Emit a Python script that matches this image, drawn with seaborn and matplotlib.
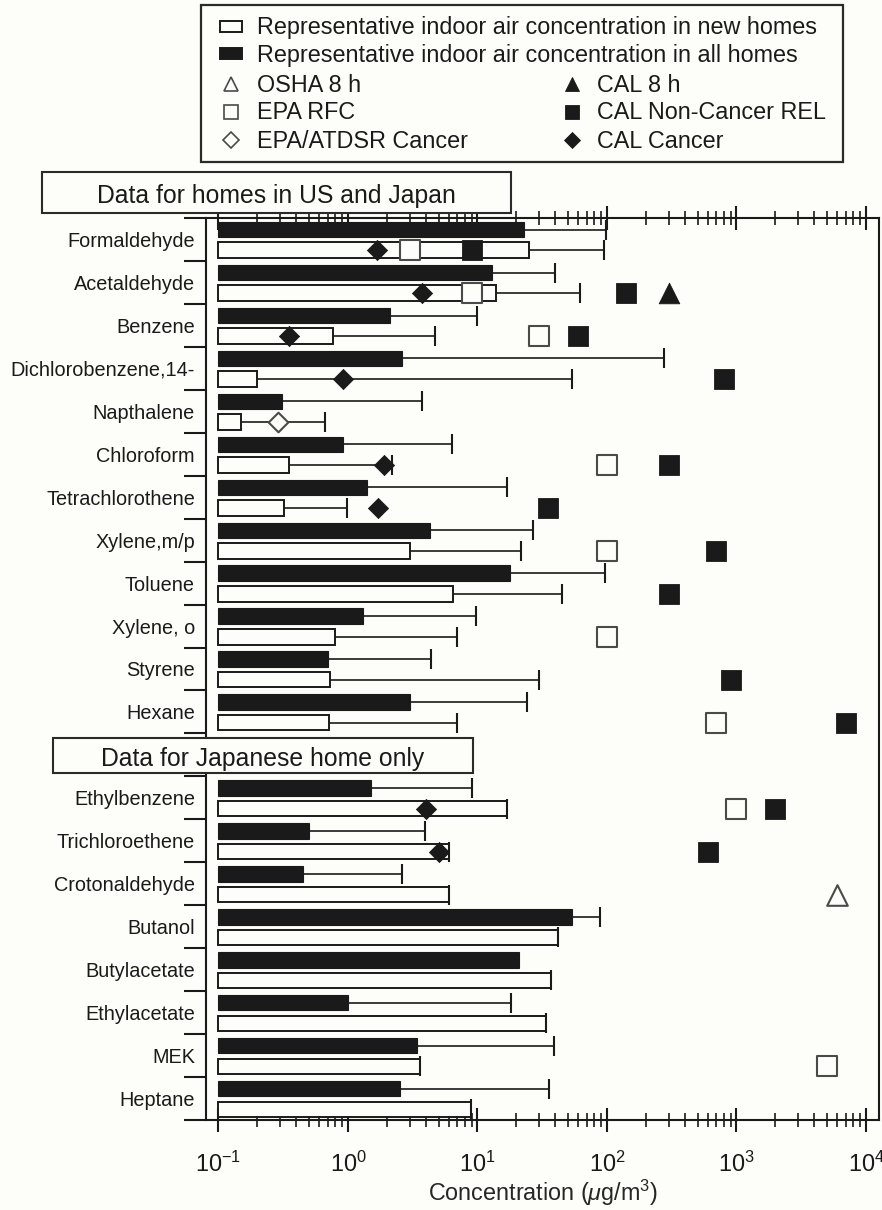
import numpy as np
import pandas as pd
import matplotlib
matplotlib.use("Agg")
import matplotlib.pyplot as plt
import seaborn as sns
from matplotlib.patches import Rectangle
from matplotlib.lines import Line2D
from matplotlib.ticker import FixedLocator, FixedFormatter, NullFormatter, LogLocator

# ---------------------------------------------------------------- data
compounds_us_jp = ["Formaldehyde", "Acetaldehyde", "Benzene", "Dichlorobenzene,14-",
                   "Napthalene", "Chloroform", "Tetrachlorothene", "Xylene,m/p",
                   "Toluene", "Xylene, o", "Styrene", "Hexane"]
compounds_jp = ["Ethylbenzene", "Trichloroethene", "Crotonaldehyde", "Butanol",
                "Butylacetate", "Ethylacetate", "MEK", "Heptane"]

# representative concentration, all homes (black bars) and upper bound
all_homes = [22.7, 12.9, 2.1, 2.6, 0.31, 0.91, 1.39, 4.3, 17.7, 1.3, 0.70, 3.0,
             1.5, 0.5, 0.45, 54, 20.8, 1.0, 3.4, 2.5]
all_homes_upper = [99, 40, 10, 275, 3.7, 6.3, 17, 27, 96, 9.7, 4.4, 24,
                   9.0, 3.9, 2.6, 89, np.nan, 18, 39, 35.6]
# representative concentration, new homes (open bars) and upper bound
new_homes = [24.9, 13.8, 0.77, 0.2, 0.148, 0.35, 0.32, 3.0, 6.5, 0.8, 0.72, 0.71,
             16.8, 6.0, 6.0, 41.7, 36.8, 34, 3.6, 8.9]
new_homes_upper = [94, 61.6, 4.7, 54, 0.66, 2.2, 0.98, 21.6, 45, 6.9, 30, 6.9,
                   16.8, 6.0, 6.0, 41.7, 36.8, 34, 3.6, 8.9]

# guideline values (ug/m3)
osha_8h = {"Crotonaldehyde": 6000}
cal_8h = {"Acetaldehyde": 300}
epa_rfc = {"Formaldehyde": 3.0, "Acetaldehyde": 9.0, "Benzene": 30, "Chloroform": 100,
           "Xylene,m/p": 100, "Xylene, o": 100, "Hexane": 700, "Ethylbenzene": 1000,
           "MEK": 5000}
cal_rel = {"Formaldehyde": 9.0, "Acetaldehyde": 140, "Benzene": 60,
           "Dichlorobenzene,14-": 800, "Chloroform": 300, "Tetrachlorothene": 35,
           "Xylene,m/p": 700, "Toluene": 300, "Styrene": 900, "Hexane": 7000,
           "Ethylbenzene": 2000, "Trichloroethene": 600}
epa_atsdr_cancer = {"Napthalene": 0.29}
cal_cancer = {"Formaldehyde": 1.66, "Acetaldehyde": 3.7, "Benzene": 0.35,
              "Dichlorobenzene,14-": 0.91, "Chloroform": 1.88, "Tetrachlorothene": 1.7,
              "Ethylbenzene": 4.0, "Trichloroethene": 5.0}

BASE = 0.1  # bars grow from 10^-1

# ---------------------------------------------------------------- style
INK = "#1a1a1a"
GREY = "#4a4a4a"
BG = "#fdfdf9"

sns.set_theme(style="ticks")
plt.rcParams["font.family"] = ["Liberation Sans", "DejaVu Sans"]
plt.rcParams.update({
    "mathtext.fontset": "custom",
    "mathtext.rm": "Liberation Sans",
    "mathtext.it": "Liberation Sans:italic",
    "mathtext.bf": "Liberation Sans:bold",
    "text.color": INK,
    "axes.edgecolor": INK,
    "xtick.color": INK,
    "ytick.color": INK,
})

W, H = 882, 1210
fig = plt.figure(figsize=(W / 100, H / 100), dpi=100)
fig.patch.set_facecolor(BG)


def fx(px):
    return px / W


def fy(py):
    return 1 - py / H


ax = fig.add_axes([fx(206), fy(1120), fx(879) - fx(206), fy(218) - fy(1120)])
ax.set_facecolor(BG)

compounds = compounds_us_jp + compounds_jp
slots = list(range(len(compounds_us_jp))) + \
    [len(compounds_us_jp) + 1 + i for i in range(len(compounds_jp))]
slot_of = dict(zip(compounds, slots))
n_slots = slots[-1] + 1

df = pd.DataFrame({"compound": compounds, "slot": slots,
                   "all": all_homes, "all_hi": all_homes_upper,
                   "new": new_homes, "new_hi": new_homes_upper})
df["y_all"] = df["slot"] + 0.27
df["y_new"] = df["slot"] + 0.75

ax.set_xscale("log")

# bars
ax.barh(df["y_all"], df["all"] - BASE, left=BASE, height=0.36,
        color=INK, edgecolor=INK, linewidth=0.8, zorder=2)
ax.barh(df["y_new"], df["new"] - BASE, left=BASE, height=0.36,
        color=BG, edgecolor=INK, linewidth=1.4, zorder=2)

# upper whiskers
for ycol, vcol, hcol in [("y_all", "all", "all_hi"), ("y_new", "new", "new_hi")]:
    d = df.dropna(subset=[hcol])
    ax.hlines(d[ycol], d[vcol], d[hcol], color=INK, linewidth=1.2, zorder=3)
    ax.plot(d[hcol], d[ycol], ls="none", marker="|", ms=14.5, mew=1.5,
            color=INK, zorder=3)


# guideline markers, on the new-homes row
def guide(values, marker, size, filled):
    d = pd.DataFrame({"x": list(values.values()),
                      "y": [slot_of[k] + 0.75 for k in values]})
    sns.scatterplot(data=d, x="x", y="y", ax=ax, marker=marker, s=size,
                    color=INK if filled else BG,
                    edgecolor=INK if filled else GREY,
                    linewidth=0.6 if filled else 1.5,
                    zorder=5, legend=False)


guide(epa_rfc, "s", 190, False)
guide(cal_rel, "s", 190, True)
guide(cal_8h, "^", 220, True)
guide(osha_8h, "^", 220, False)
guide(epa_atsdr_cancer, "D", 100, False)
guide(cal_cancer, "D", 105, True)

# ---------------------------------------------------------------- axes
ax.set_xlim(10 ** -1.0965, 10 ** 4.1004)
ax.set_ylim(n_slots, 0)

ax.xaxis.set_major_locator(LogLocator(base=10, numticks=20))
minor = [m * 10.0 ** e for e in range(-1, 4) for m in range(2, 10)]
ax.xaxis.set_minor_locator(FixedLocator(minor))
ax.xaxis.set_minor_formatter(NullFormatter())
ax.tick_params(axis="x", which="major", direction="inout", length=17, width=1.5,
               top=True, bottom=True, labeltop=False, labelsize=16.8, pad=14)
ax.tick_params(axis="x", which="minor", direction="inout", length=10, width=1.2,
               top=True, bottom=True)

ax.yaxis.set_major_locator(FixedLocator(range(n_slots + 1)))
ax.yaxis.set_major_formatter(NullFormatter())
ax.yaxis.set_minor_locator(FixedLocator(list(df["slot"] + 0.5)))
ax.yaxis.set_minor_formatter(FixedFormatter(compounds))
ax.tick_params(axis="y", which="major", direction="out", length=16, width=1.5,
               left=True, right=False)
ax.tick_params(axis="y", which="minor", length=0, pad=8, labelsize=14.3,
               left=True, right=False)

for s in ax.spines.values():
    s.set_linewidth(1.5)
    s.set_color(INK)

ax.set_ylabel("")
ax.set_xlabel(r"Concentration ($\mu$g/m$^3$)", fontsize=16.8)
ax.xaxis.set_label_coords(0.5, (1120 - 1193) / 902)
ax.xaxis.label.set_va("center")


# ---------------------------------------------------------------- group boxes
def group_box(x0, y0, x1, y1, baseline, text):
    fig.add_artist(Rectangle((fx(x0), fy(y1)), fx(x1) - fx(x0), fy(y0) - fy(y1),
                             transform=fig.transFigure, facecolor=BG,
                             edgecolor="#2a2a2a", linewidth=1.5, zorder=10))
    fig.text(fx((x0 + x1) / 2), fy(baseline), text, ha="center", va="baseline",
             fontsize=17.8, zorder=11)


group_box(42, 172, 511, 213, 203, "Data for homes in US and Japan")
group_box(53, 738, 473, 773, 766, "Data for Japanese home only")

# ---------------------------------------------------------------- legend
fig.add_artist(Rectangle((fx(201), fy(162)), fx(843) - fx(201), fy(5) - fy(162),
                         transform=fig.transFigure, facecolor=BG,
                         edgecolor="#2a2a2a", linewidth=1.6, zorder=10))

row_mid = [26.2, 53.4, 83.8, 111.7, 139.7]
row_base = [34.0, 61.7, 91.7, 119.3, 147.7]
LEG_FS = 16.8


def leg_patch(cx, cy, filled):
    fig.add_artist(Rectangle((fx(cx - 11), fy(cy + 5.5)), fx(22), 11 / H,
                             transform=fig.transFigure,
                             facecolor=INK if filled else BG, edgecolor=INK,
                             linewidth=1.4, zorder=12))


def leg_marker(cx, cy, marker, ms, filled):
    fig.add_artist(Line2D([fx(cx)], [fy(cy)], transform=fig.transFigure,
                          ls="none", marker=marker, ms=ms,
                          markerfacecolor=INK if filled else BG,
                          markeredgecolor=INK if filled else GREY,
                          markeredgewidth=0.6 if filled else 1.2, zorder=12))


leg_patch(231, row_mid[0], False)
fig.text(fx(257), fy(row_base[0]), "Representative indoor air concentration in new homes",
         fontsize=LEG_FS, va="baseline", zorder=12)
leg_patch(231, row_mid[1], True)
fig.text(fx(257), fy(row_base[1]), "Representative indoor air concentration in all homes",
         fontsize=LEG_FS, va="baseline", zorder=12)

entries = [
    (0, "^", 10.5, False, "OSHA 8 h"), (1, "^", 10.5, True, "CAL 8 h"),
    (0, "s", 10.0, False, "EPA RFC"), (1, "s", 10.0, True, "CAL Non-Cancer REL"),
    (0, "D", 8.0, False, "EPA/ATDSR Cancer"), (1, "D", 8.0, True, "CAL Cancer"),
]
col_marker = [231, 572]
col_text = [257, 597]
for i, (col, mk, ms, filled, label) in enumerate(entries):
    r = 2 + i // 2
    leg_marker(col_marker[col], row_mid[r], mk, ms, filled)
    fig.text(fx(col_text[col]), fy(row_base[r]), label, fontsize=LEG_FS,
             va="baseline", zorder=12)

fig.savefig("out.png", dpi=100, facecolor=BG)
